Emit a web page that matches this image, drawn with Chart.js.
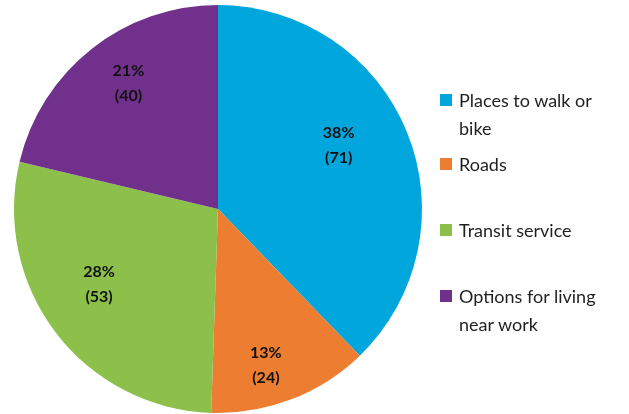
<!DOCTYPE html>
<html lang="en">
<head>
<meta charset="UTF-8">
<title>Priorities pie</title>
<script src="https://cdn.jsdelivr.net/npm/chart.js"></script>
<style>
    body { margin: 0; background: #fff; }
    .wrap { position: relative; width: 629px; height: 414px; }
    #legend {
        position: absolute; left: 440px; top: 86px; width: 189px;
        font-family: Lato, "Open Sans", sans-serif; font-size: 18px; color: #1f1f1f;
        line-height: 28px;
    }
    #legend .item { position: relative; padding-left: 19px; }
    #legend .box { position: absolute; left: 0; top: 8px; width: 12px; height: 12px; }
</style>
</head>
<body>
<div class="wrap">
    <canvas id="pie" width="629" height="414"></canvas>
    <div id="legend"></div>
</div>
<script>
// data
const categories = ['Places to walk or bike', 'Roads', 'Transit service', 'Options for living near work'];
const counts = [71, 24, 53, 40];
const percents = ['38%', '13%', '28%', '21%'];
const colors = ['#00A6DC', '#ED7D31', '#8DC04B', '#70308C'];
// legend line breaks as in the picture
const legendLines = [['Places to walk or', 'bike'], ['Roads'], ['Transit service'], ['Options for living', 'near work']];

// label placement tweaks: [angle shift in degrees, fraction of radius]
const labelPlace = [[-6, 0.67], [4, 0.8], [5, 0.69], [3, 0.76]];
const legendGaps = [0, 8, 38, 38];

const sliceLabels = {
    id: 'sliceLabels',
    afterDatasetsDraw(chart) {
        const ctx = chart.ctx;
        const meta = chart.getDatasetMeta(0);
        ctx.save();
        ctx.font = 'bold 16px Lato, "Open Sans", sans-serif';
        ctx.fillStyle = '#111';
        ctx.textAlign = 'center';
        ctx.textBaseline = 'middle';
        meta.data.forEach((arc, i) => {
            const p = arc.getProps(['x', 'y', 'startAngle', 'endAngle', 'outerRadius'], true);
            const a = (p.startAngle + p.endAngle) / 2 + labelPlace[i][0] * Math.PI / 180;
            const r = p.outerRadius * labelPlace[i][1];
            const x = p.x + Math.cos(a) * r;
            const y = p.y + Math.sin(a) * r;
            ctx.fillText(percents[i], x, y - 12);
            ctx.fillText('(' + counts[i] + ')', x, y + 13);
        });
        ctx.restore();
    }
};

new Chart(document.getElementById('pie'), {
    type: 'pie',
    data: {
        labels: categories,
        datasets: [{ data: counts, backgroundColor: colors, borderWidth: 0 }]
    },
    options: {
        responsive: false,
        animation: false,
        layout: { padding: { left: 14, right: 207, top: 5, bottom: 1 } },
        plugins: { legend: { display: false }, tooltip: { enabled: false } }
    },
    plugins: [sliceLabels]
});

// html legend
const legend = document.getElementById('legend');
categories.forEach((c, i) => {
    const item = document.createElement('div');
    item.className = 'item';
    item.style.marginTop = legendGaps[i] + 'px';
    item.innerHTML = '<span class="box" style="background:' + colors[i] + '"></span>' + legendLines[i].join('<br>');
    legend.appendChild(item);
});
</script>
</body>
</html>
